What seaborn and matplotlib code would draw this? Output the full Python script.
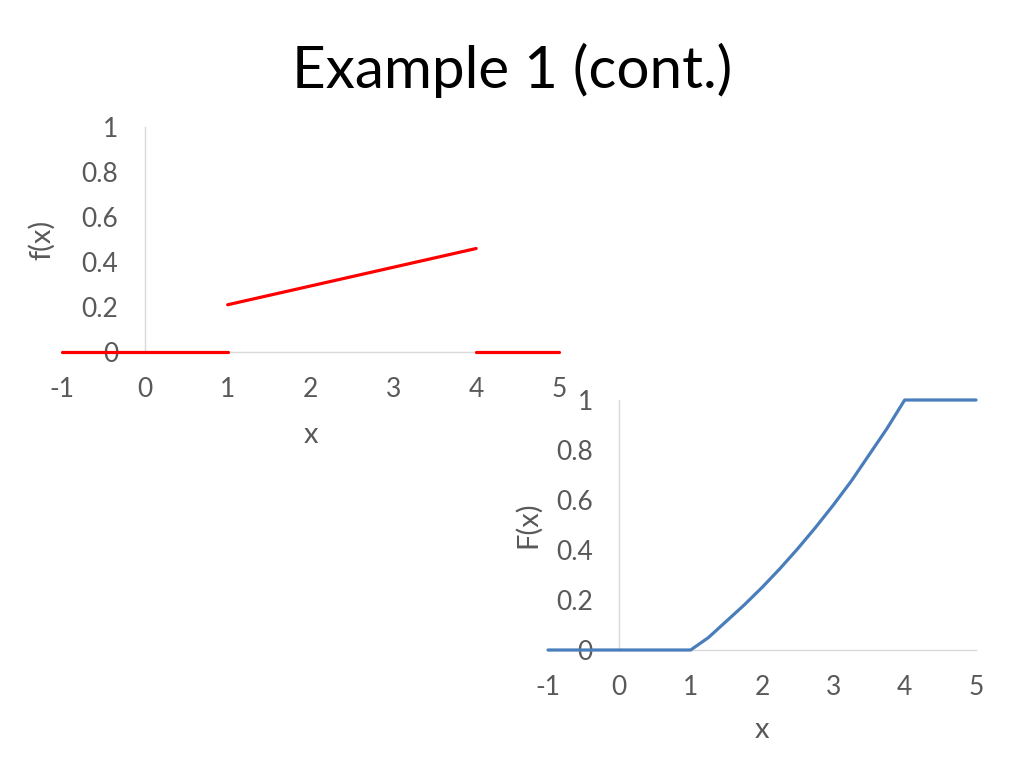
import matplotlib
matplotlib.use("Agg")
import matplotlib.pyplot as plt
import pandas as pd
import seaborn as sns

sns.set_style("white")
plt.rcParams['font.family'] = ['Lato', 'DejaVu Sans']

# density f(x): three separate pieces
pdf_x = [-1, 1, 1, 4, 4, 5]
pdf_y = [0, 0, 0.21, 0.46, 0, 0]
pdf_piece = ['a', 'a', 'b', 'b', 'c', 'c']

# cumulative F(x)
cdf_x = [-1, 0, 1, 1.25, 1.5, 1.75, 2, 2.25, 2.5, 2.75, 3, 3.25, 3.5, 3.75, 4, 5]
cdf_y = [0, 0, 0, 0.05, 0.115, 0.18, 0.25, 0.325, 0.405, 0.49, 0.58, 0.675,
         0.78, 0.885, 1.0, 1.0]

x_ticks = [-1, 0, 1, 2, 3, 4, 5]
y_ticks = [0, 0.2, 0.4, 0.6, 0.8, 1]
y_labels = ['0', '0.2', '0.4', '0.6', '0.8', '1']

df_pdf = pd.DataFrame({'x': pdf_x, 'y': pdf_y, 'piece': pdf_piece})
df_cdf = pd.DataFrame({'x': cdf_x, 'y': cdf_y})

W, H = 1024, 768
fig = plt.figure(figsize=(10.24, 7.68), dpi=100)
fig.patch.set_facecolor('white')

fig.text(512 / W, 1 - 70 / H, 'Example 1 (cont.)', ha='center', va='center',
         fontsize=42, color='black')

tick_col = '#595959'
axis_col = '#d9d9d9'


def make_axes(l, r, t, b):
    return fig.add_axes([l / W, 1 - b / H, (r - l) / W, (b - t) / H])


def style(ax, ylabel, ylab_xy, xlab_xy):
    ax.set_xlim(-1, 5)
    ax.set_ylim(0, 1)
    ax.set_xticks(x_ticks)
    ax.set_xticklabels([str(t) for t in x_ticks])
    ax.set_yticks(y_ticks)
    ax.set_yticklabels(y_labels)
    for s in ['top', 'right']:
        ax.spines[s].set_visible(False)
    ax.spines['left'].set_position(('data', 0))
    ax.spines['left'].set_color(axis_col)
    ax.spines['bottom'].set_color(axis_col)
    ax.spines['left'].set_linewidth(1)
    ax.spines['bottom'].set_linewidth(1)
    ax.tick_params(axis='both', length=0, labelsize=19, colors=tick_col)
    ax.tick_params(axis='y', pad=19)
    ax.tick_params(axis='x', pad=18)
    ax.patch.set_alpha(0)
    ax.set_xlabel('x', fontsize=21, color=tick_col)
    ax.set_ylabel(ylabel, fontsize=21, color=tick_col)
    ax.xaxis.label.set_va('center')
    ax.yaxis.label.set_va('center')
    ax.xaxis.set_label_coords(*xlab_xy)
    ax.yaxis.set_label_coords(*ylab_xy)


# left chart: f(x)
ax1 = make_axes(62, 559, 127, 352)
sns.lineplot(data=df_pdf, x='x', y='y', units='piece', estimator=None,
             color='#ff0000', linewidth=2.3, ax=ax1, clip_on=False)
style(ax1, 'f(x)', (-0.04, 0.5), (0.5, -0.37))
for l in ax1.get_lines():
    l.set_zorder(5)

# right chart: F(x)
ax2 = make_axes(548, 976, 400, 650)
sns.lineplot(data=df_cdf, x='x', y='y', color='#4a7ebb', linewidth=2.3,
             ax=ax2, clip_on=False)
style(ax2, 'F(x)', (-0.047, 0.5), (0.5, -0.32))
for l in ax2.get_lines():
    l.set_zorder(5)

fig.savefig('out.png', dpi=100)
